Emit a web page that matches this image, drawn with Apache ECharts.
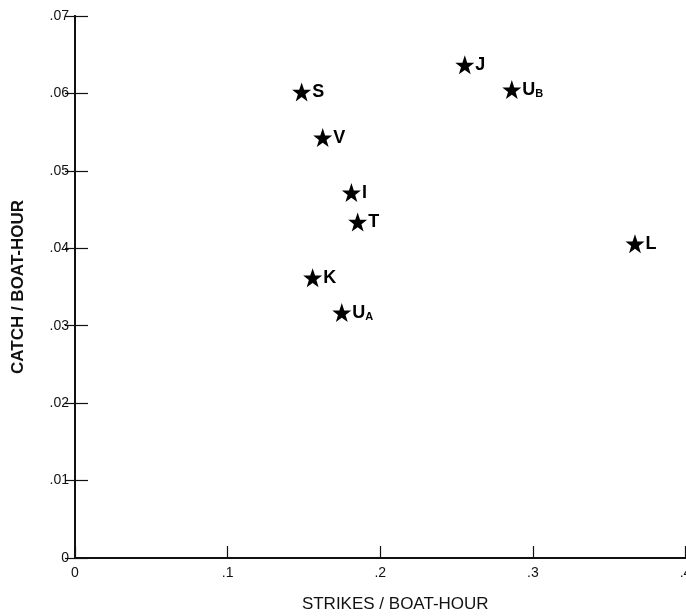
<!DOCTYPE html>
<html><head><meta charset="utf-8">
<script src="https://cdn.jsdelivr.net/npm/echarts@6/dist/echarts.min.js"></script>
<style>html,body{margin:0;padding:0;background:#fff}#c{width:686px;height:616px}</style>
</head><body><div id="c"></div>
<script>
const siteNames = ['S','V','J','UB','I','T','L','K','UA'];
const strikes = [0.1485, 0.1623, 0.2554, 0.2862, 0.1811, 0.1852, 0.3669, 0.1557, 0.1748];
const catches = [0.0602, 0.0543, 0.0637, 0.0605, 0.0472, 0.0434, 0.0406, 0.0362, 0.0317];
const siteLabels = {S:'{m|S}',V:'{m|V}',J:'{m|J}',UB:'{m|U}{s|B}',I:'{m|I}',T:'{m|T}',L:'{m|L}',K:'{m|K}',UA:'{m|U}{s|A}'};

const star = 'path://M50,0 L62.5,36 L99,36 L69.5,58 L80.5,93 L50,72 L19.5,93 L30.5,58 L1,36 L37.5,36 Z';
const font = 'Liberation Sans, Arial, sans-serif';
const chart = echarts.init(document.getElementById('c'));
const yFmt = v => v === 0 ? '0' : v.toFixed(2).replace(/^0/, '');
const xFmt = v => v === 0 ? '0' : v.toFixed(1).replace(/^0/, '');
chart.setOption({
  animation: false,
  backgroundColor: '#fff',
  grid: {left: 75, right: 0.5, top: 16, bottom: 58, outerBoundsMode: 'none', containLabel: false},
  xAxis: [{
    type: 'value', min: 0, max: 0.4, interval: 0.1,
    name: 'STRIKES / BOAT-HOUR', nameLocation: 'middle', nameGap: 38,
    nameTextStyle: {fontFamily: font, fontSize: 17, color: '#111', padding: [0,0,0,30]},
    axisLine: {show: true, lineStyle: {color: '#111', width: 2}},
    axisTick: {show: true, inside: true, length: 12, lineStyle: {color: '#111', width: 1.2}},
    axisLabel: {formatter: xFmt, fontFamily: font, fontSize: 14, color: '#111', margin: 8},
    splitLine: {show: false}
  }, {
    type: 'value', position: 'top', min: 0, max: 0.4, interval: 0.1,
    axisLine: {show: true, lineStyle: {color: '#111', width: 2}},
    axisTick: {show: false}, axisLabel: {show: false}, splitLine: {show: false}
  }],
  yAxis: [{
    type: 'value', min: 0, max: 0.07, interval: 0.01,
    name: 'CATCH / BOAT-HOUR', nameLocation: 'middle', nameGap: 48, nameRotate: 90,
    nameTextStyle: {fontFamily: font, fontSize: 17, fontWeight: 'bold', color: '#111'},
    axisLine: {show: true, lineStyle: {color: '#111', width: 2}},
    axisTick: {show: true, inside: true, length: 13, lineStyle: {color: '#111', width: 1.2}},
    axisLabel: {formatter: yFmt, fontFamily: font, fontSize: 14, color: '#111', margin: 6},
    splitLine: {show: false}
  }, {
    type: 'value', position: 'right', min: 0, max: 0.07, interval: 0.01,
    axisLine: {show: true, lineStyle: {color: '#111', width: 2}},
    axisTick: {show: true, inside: true, length: 10, lineStyle: {color: '#111', width: 1.2}},
    axisLabel: {show: false}, splitLine: {show: false}
  }],
  series: [{
    type: 'scatter',
    symbol: star, symbolSize: 19,
    itemStyle: {color: '#000', opacity: 1},
    data: siteNames.map((n, i) => ({value: [strikes[i], catches[i]], name: n})),
    label: {
      show: true, position: 'right', distance: 1,
      formatter: p => siteLabels[p.name],
      rich: {
        m: {fontFamily: font, fontSize: 18, fontWeight: 'bold', color: '#000'},
        s: {fontFamily: font, fontSize: 11, fontWeight: 'bold', color: '#000', padding: [8,0,0,0]}
      }
    }
  }]
});
</script></body></html>
